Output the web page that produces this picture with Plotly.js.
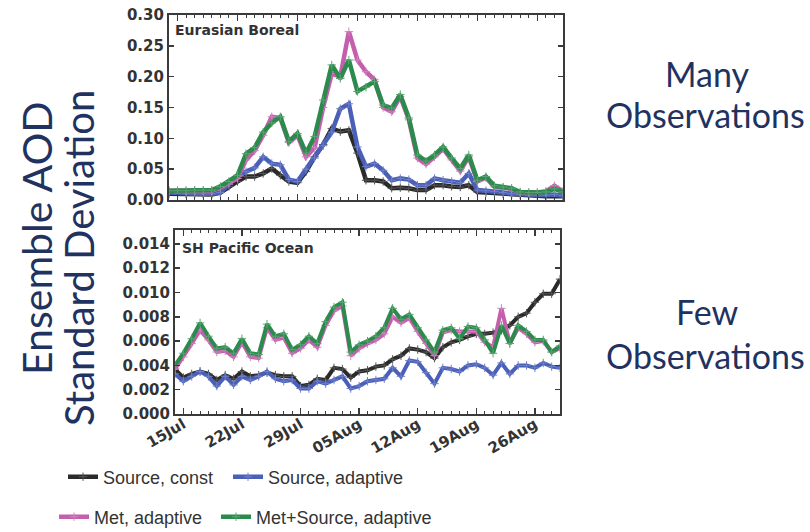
<!DOCTYPE html>
<html><head><meta charset="utf-8">
<script src="https://cdn.plot.ly/plotly-3.0.1.min.js"></script>
<style>html,body{margin:0;padding:0;background:#fff;} #chart{width:810px;height:532px;}</style>
</head><body><div id="chart"></div>
<script>
const dates = ['2013-07-14','2013-07-15','2013-07-16','2013-07-17','2013-07-18','2013-07-19','2013-07-20','2013-07-21','2013-07-22','2013-07-23',
'2013-07-24','2013-07-25','2013-07-26','2013-07-27','2013-07-28','2013-07-29','2013-07-30','2013-07-31','2013-08-01','2013-08-02',
'2013-08-03','2013-08-04','2013-08-05','2013-08-06','2013-08-07','2013-08-08','2013-08-09','2013-08-10','2013-08-11','2013-08-12',
'2013-08-13','2013-08-14','2013-08-15','2013-08-16','2013-08-17','2013-08-18','2013-08-19','2013-08-20','2013-08-21','2013-08-22',
'2013-08-23','2013-08-24','2013-08-25','2013-08-26','2013-08-27','2013-08-28','2013-08-29'];

const seriesNames = ['Source, const','Source, adaptive','Met, adaptive','Met+Source, adaptive'];
const panelTitles = ['Eurasian Boreal','SH Pacific Ocean'];
const sideTexts = ['Many','Observations','Few','Observations'];
const yTitleLines = ['Ensemble AOD','Standard Deviation'];

// Eurasian Boreal
const topBlack = [0.010,0.010,0.010,0.010,0.009,0.009,0.012,0.022,0.030,0.038,0.038,0.043,0.051,0.040,0.030,0.028,0.046,0.070,0.090,0.116,0.111,0.113,0.076,0.032,0.032,0.030,0.019,0.020,0.019,0.016,0.016,0.024,0.024,0.022,0.021,0.024,0.013,0.012,0.011,0.010,0.009,0.008,0.007,0.007,0.006,0.006,0.006];
const topBlue  = [0.012,0.011,0.010,0.010,0.010,0.010,0.012,0.025,0.040,0.046,0.052,0.070,0.059,0.057,0.033,0.030,0.050,0.068,0.088,0.110,0.148,0.156,0.086,0.054,0.059,0.048,0.032,0.035,0.033,0.024,0.024,0.035,0.032,0.030,0.028,0.043,0.016,0.015,0.014,0.012,0.010,0.009,0.008,0.008,0.008,0.009,0.007];
const topPink  = [0.015,0.015,0.015,0.015,0.015,0.015,0.020,0.028,0.035,0.065,0.080,0.105,0.135,0.133,0.093,0.105,0.070,0.085,0.150,0.205,0.200,0.273,0.227,0.208,0.195,0.150,0.143,0.168,0.130,0.068,0.058,0.070,0.083,0.065,0.047,0.070,0.030,0.036,0.021,0.020,0.018,0.012,0.012,0.012,0.014,0.023,0.014];
const topGreen = [0.015,0.015,0.015,0.016,0.016,0.016,0.022,0.030,0.040,0.075,0.085,0.110,0.125,0.135,0.095,0.108,0.076,0.103,0.162,0.219,0.197,0.227,0.176,0.183,0.192,0.154,0.149,0.171,0.133,0.073,0.063,0.073,0.086,0.068,0.051,0.073,0.032,0.038,0.023,0.021,0.019,0.013,0.012,0.012,0.013,0.018,0.013];

// SH Pacific Ocean
const botBlack = [0.0037,0.0030,0.0033,0.0035,0.0033,0.0028,0.0032,0.0029,0.0035,0.0031,0.0032,0.0034,0.0032,0.0031,0.0031,0.0023,0.0024,0.0029,0.0028,0.0038,0.0037,0.0030,0.0035,0.0036,0.0039,0.0040,0.0045,0.0048,0.0054,0.0053,0.0051,0.0046,0.0055,0.0059,0.0061,0.0064,0.0066,0.0066,0.0067,0.0069,0.0073,0.0080,0.0083,0.0092,0.0099,0.0099,0.0111];
const botBlue  = [0.0033,0.0027,0.0031,0.0035,0.0031,0.0023,0.0031,0.0024,0.0031,0.0028,0.0031,0.0035,0.0029,0.0027,0.0028,0.0021,0.0021,0.0027,0.0025,0.0028,0.0031,0.0021,0.0023,0.0027,0.0028,0.0029,0.0038,0.0031,0.0044,0.0043,0.0034,0.0025,0.0038,0.0037,0.0035,0.0040,0.0041,0.0038,0.0032,0.0042,0.0033,0.0040,0.0040,0.0038,0.0042,0.0039,0.0038];
const botPink  = [0.0037,0.0047,0.0058,0.0069,0.0061,0.0051,0.0052,0.0047,0.0059,0.0047,0.0046,0.0071,0.0061,0.0063,0.0050,0.0054,0.0061,0.0055,0.0073,0.0085,0.0089,0.0048,0.0054,0.0058,0.0061,0.0066,0.0080,0.0075,0.0079,0.0068,0.0058,0.0048,0.0067,0.0069,0.0068,0.0068,0.0068,0.0059,0.0055,0.0087,0.0058,0.0071,0.0066,0.0059,0.0060,0.0051,0.0054];
const botGreen = [0.0040,0.0050,0.0062,0.0075,0.0064,0.0054,0.0055,0.0050,0.0062,0.0050,0.0049,0.0074,0.0064,0.0066,0.0053,0.0057,0.0064,0.0058,0.0076,0.0088,0.0092,0.0051,0.0057,0.0060,0.0064,0.0071,0.0087,0.0078,0.0082,0.0071,0.0061,0.0051,0.0069,0.0071,0.0062,0.0072,0.0071,0.0061,0.0050,0.0073,0.0058,0.0073,0.0068,0.0061,0.0061,0.0051,0.0056];

const colors = ['#2a2a2a','#4a5fb8','#c45fae','#2b8a4c'];
const markerColors = ['#555555','#7080c8','#d085c2','#5aa672'];
const topData = [topBlack, topBlue, topPink, topGreen];
const botData = [botBlack, botBlue, botPink, botGreen];
const legendIds = ['legend','legend2','legend3','legend4'];

const traces = [];
for (let i = 0; i < 4; i++) {
  traces.push({x: dates, y: topData[i], xaxis:'x', yaxis:'y', type:'scatter', mode:'lines+markers',
    name: seriesNames[i], legend: legendIds[i], showlegend: true,
    line:{color: colors[i], width: 4.5},
    marker:{symbol:'cross-thin', size:6, color: markerColors[i], line:{color: markerColors[i], width:1}}});
}
for (let i = 0; i < 4; i++) {
  traces.push({x: dates, y: botData[i], xaxis:'x2', yaxis:'y2', type:'scatter', mode:'lines+markers',
    name: seriesNames[i], showlegend: false,
    line:{color: colors[i], width: 4},
    marker:{symbol:'cross-thin', size:6, color: markerColors[i], line:{color: markerColors[i], width:1}}});
}

const axCol = '#3a3a3a';
const tickFont = {family:'DejaVu Sans, Verdana, sans-serif', size:15, weight:'bold', color:'#333'};
const DAY = 86400000;
function xAx(domain, anchor, labels) {
  return {domain: domain, anchor: anchor, type:'date', range:['2013-07-14','2013-08-29'],
    tick0:'2013-07-15', dtick: 7*DAY, tickformat:'%d%b', showticklabels: labels, tickangle:-30,
    ticklabelstandoff:-6,
    tickfont:{family:'DejaVu Sans, Verdana, sans-serif', size:15, weight:'bold', color:'#333'},
    ticks:'inside', ticklen:6, tickwidth:1.5, tickcolor:axCol,
    minor:{dtick: DAY, ticks:'inside', ticklen:3, tickwidth:1, tickcolor:axCol, showgrid:false},
    showline:true, linecolor:axCol, linewidth:2, mirror:'allticks', showgrid:false, zeroline:false, fixedrange:true};
}
function yAx(domain, anchor, range, dtick, fmt) {
  return {domain: domain, anchor: anchor, range: range, dtick: dtick, tick0:0, tickformat: fmt,
    tickfont: tickFont, ticks:'inside', ticklen:5, tickwidth:1.5, tickcolor:axCol,
    showline:true, linecolor:axCol, linewidth:2, mirror:'allticks', showgrid:false, zeroline:false, fixedrange:true};
}
const navy = '#1f3260';
const sideFont = {family:'Lato, Open Sans, sans-serif', size:34, color: navy};
const legFont = {family:'Liberation Sans, Arial, sans-serif', size:18, color:'#333'};
function leg(x, y) { return {x:x, y:y, xanchor:'left', yanchor:'middle', orientation:'h', font: legFont, bgcolor:'rgba(0,0,0,0)', borderwidth:0}; }

const layout = {
  width:810, height:532, margin:{l:0,r:0,t:0,b:0, autoexpand:false}, paper_bgcolor:'#fff', plot_bgcolor:'#fff',
  xaxis: xAx([0.2086,0.6951],'y', false),
  yaxis: yAx([0.6241,0.9718],'x',[0,0.30],0.05,'.2f'),
  xaxis2: xAx([0.2160,0.6914],'y2', true),
  yaxis2: yAx([0.2218,0.5677],'x2',[0,0.01515],0.002,'.3f'),
  legend: leg(0.0778, 0.1034),
  legend2: leg(0.2815, 0.1034),
  legend3: leg(0.0667, 0.0282),
  legend4: leg(0.2667, 0.0282),
  annotations: [
    {xref:'paper', yref:'paper', x:173/810, y:1-30/532, xanchor:'left', yanchor:'middle', showarrow:false,
      text: panelTitles[0], font:{family:'DejaVu Sans, sans-serif', size:14, weight:'bold', color:'#333'}},
    {xref:'paper', yref:'paper', x:180/810, y:1-248/532, xanchor:'left', yanchor:'middle', showarrow:false,
      text: panelTitles[1], font:{family:'DejaVu Sans, sans-serif', size:14, weight:'bold', color:'#333'}},
    {xref:'paper', yref:'paper', x:36/810, y:1-238/532, xanchor:'center', yanchor:'middle', showarrow:false, textangle:-90,
      text: yTitleLines[0], font:{family:'Lato, Open Sans, sans-serif', size:41, color: navy}},
    {xref:'paper', yref:'paper', x:79/810, y:1-258/532, xanchor:'center', yanchor:'middle', showarrow:false, textangle:-90,
      text: yTitleLines[1], font:{family:'Lato, Open Sans, sans-serif', size:40, color: navy}},
    {xref:'paper', yref:'paper', x:707/810, y:1-73/532, xanchor:'center', yanchor:'middle', showarrow:false, text: sideTexts[0], font: sideFont},
    {xref:'paper', yref:'paper', x:705/810, y:1-114/532, xanchor:'center', yanchor:'middle', showarrow:false, text: sideTexts[1], font: sideFont},
    {xref:'paper', yref:'paper', x:707/810, y:1-311/532, xanchor:'center', yanchor:'middle', showarrow:false, text: sideTexts[2], font: sideFont},
    {xref:'paper', yref:'paper', x:705/810, y:1-355/532, xanchor:'center', yanchor:'middle', showarrow:false, text: sideTexts[3], font: sideFont}
  ]
};
Plotly.newPlot('chart', traces, layout, {displayModeBar:false, staticPlot:true});
</script></body></html>
